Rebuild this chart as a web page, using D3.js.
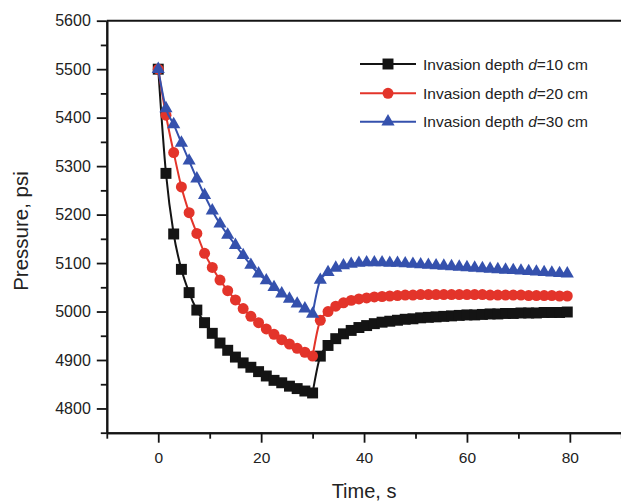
<!DOCTYPE html>
<html lang="en">
	<head>
		<meta charset="utf-8">
		<title>Pressure vs time, invasion depth</title>
		<script src="https://d3js.org/d3.v7.min.js"></script>
		<style type="text/css">
			body { margin: 0; background: #fff; }
			text { font-family: "Liberation Sans", Arial, sans-serif; fill: #222; }
		</style>
	</head>
	<body>
		<script type="text/javascript">
			//Width and height
			var w = 621;
			var h = 504;

			// time of shut-in, splits drawdown and build-up
			var shutIn = 30;

			var time = [0, 1.5, 3, 4.5, 6, 7.5, 9, 10.5, 12, 13.5, 15, 16.5, 18, 19.5, 21, 22.5, 24, 25.5, 27, 28.5, 30,
				31.5, 33, 34.5, 36, 37.5, 39, 40.5, 42, 43.5, 45, 46.5, 48, 49.5, 51, 52.5, 54, 55.5, 57, 58.5, 60,
				61.5, 63, 64.5, 66, 67.5, 69, 70.5, 72, 73.5, 75, 76.5, 78, 79.5];

			var p10 = [5500, 5285, 5160, 5087, 5039, 5003, 4977, 4955, 4935, 4920, 4906, 4894, 4885, 4876, 4867, 4858, 4853, 4846, 4841, 4836, 4832,
				4908, 4930, 4944, 4954, 4961, 4967, 4971, 4975, 4978, 4980, 4982, 4984, 4985, 4987, 4988, 4989, 4990, 4991, 4992, 4993,
				4993, 4994, 4995, 4995, 4996, 4996, 4997, 4997, 4997, 4998, 4998, 4998, 4999];

			var p20 = [5500, 5405, 5328, 5257, 5204, 5161, 5120, 5091, 5065, 5043, 5024, 5006, 4990, 4977, 4964, 4953, 4942, 4933, 4924, 4916, 4908,
				4982, 5000, 5011, 5018, 5023, 5026, 5028, 5030, 5031, 5032, 5033, 5034, 5034, 5035, 5035, 5035, 5035, 5035, 5035, 5035,
				5035, 5035, 5034, 5034, 5034, 5034, 5034, 5033, 5033, 5033, 5033, 5032, 5032];

			var p30 = [5500, 5419, 5386, 5348, 5311, 5274, 5240, 5208, 5181, 5158, 5137, 5116, 5096, 5078, 5064, 5050, 5037, 5026, 5016, 5006, 4995,
				5065, 5081, 5090, 5095, 5098, 5100, 5101, 5101, 5101, 5100, 5100, 5099, 5098, 5097, 5096, 5095, 5094, 5093, 5092, 5091,
				5090, 5089, 5088, 5087, 5086, 5085, 5084, 5083, 5082, 5081, 5080, 5079, 5078];

			var seriesNames = ["Invasion depth ", "Invasion depth ", "Invasion depth "];
			var seriesDepth = ["=10 cm", "=20 cm", "=30 cm"];
			var colors = ["#141414", "#e3342a", "#3551ad"];
			var shapes = [d3.symbolSquare, d3.symbolCircle, d3.symbolTriangle];
			var shapeSizes = [120, 95, 75];

			var xMajor = [0, 20, 40, 60, 80];
			var xMinor = [-10, 10, 30, 50, 70, 90];
			var yMajor = [4800, 4900, 5000, 5100, 5200, 5300, 5400, 5500, 5600];
			var yMinor = [4750, 4850, 4950, 5050, 5150, 5250, 5350, 5450, 5550];

			var mySVG = d3.select('body').append('svg').attr('width', w).attr('height', h);

			//Create scale functions
			var xScale = d3.scaleLinear()
								.domain([-10, 90])
								.range([106.8, 621.3]);

			var yScale = d3.scaleLinear()
								.domain([4750, 5600])
								.range([432.7, 20.7]);

			// axes
			var xAxisG = mySVG.append('g').attr('transform', 'translate(0,' + yScale(4750) + ')');
			xAxisG.call(d3.axisBottom(xScale).tickValues(xMajor).tickSize(10).tickSizeOuter(0).tickPadding(9).tickFormat(d3.format('d')));
			xAxisG.append('g').call(d3.axisBottom(xScale).tickValues(xMinor).tickSize(6).tickSizeOuter(0).tickFormat(''));

			var yAxisG = mySVG.append('g').attr('transform', 'translate(' + xScale(-10) + ',0)');
			yAxisG.call(d3.axisLeft(yScale).tickValues(yMajor).tickSize(10).tickSizeOuter(0).tickPadding(6).tickFormat(d3.format('d')));
			yAxisG.append('g').call(d3.axisLeft(yScale).tickValues(yMinor).tickSize(6).tickSizeOuter(0).tickFormat(''));

			mySVG.selectAll('.domain').attr('stroke', '#141414').attr('stroke-width', 2);
			mySVG.selectAll('.tick line').attr('stroke', '#141414').attr('stroke-width', 1.8);
			xAxisG.selectAll('.tick text').attr('font-size', 15.5).attr('fill', '#222')
				.attr('font-family', '"Liberation Sans", Arial, sans-serif');
			yAxisG.selectAll('.tick text').attr('font-size', 16).attr('fill', '#222')
				.attr('font-family', '"Liberation Sans", Arial, sans-serif');

			// top frame line
			mySVG.append('line')
				.attr('x1', xScale(-10)).attr('x2', xScale(90))
				.attr('y1', yScale(5600)).attr('y2', yScale(5600))
				.attr('stroke', '#141414').attr('stroke-width', 2);

			// axis titles
			mySVG.append('text')
				.attr('x', xScale(40)).attr('y', 498)
				.attr('text-anchor', 'middle')
				.attr('font-size', 20)
				.text('Time, s');

			mySVG.append('text')
				.attr('transform', 'translate(28,231) rotate(-90)')
				.attr('text-anchor', 'middle')
				.attr('font-size', 20.5)
				.text('Pressure, psi');

			// series
			var allSeries = [p10, p20, p30];
			var line = d3.line()
				.x(d => xScale(d[0]))
				.y(d => yScale(d[1]))
				.curve(d3.curveMonotoneX);

			allSeries.forEach(function(vals, k) {
				var pts = time.map((t, i) => [t, vals[i]]);
				var drawdown = pts.filter(d => d[0] <= shutIn);
				var buildup = pts.filter(d => d[0] >= shutIn);

				[drawdown, buildup].forEach(function(seg) {
					mySVG.append('path')
						.datum(seg)
						.attr('d', line)
						.attr('fill', 'none')
						.attr('stroke', colors[k])
						.attr('stroke-width', 2);
				});

				mySVG.append('g').selectAll('path')
					.data(pts)
					.enter()
					.append('path')
						.attr('transform', d => 'translate(' + xScale(d[0]) + ',' + yScale(d[1]) + ')')
						.attr('d', d3.symbol().type(shapes[k]).size(shapeSizes[k]))
						.attr('fill', colors[k]);
			});

			// legend
			var legendY = [64, 93.3, 121.7];
			var legend = mySVG.append('g');
			seriesNames.forEach(function(name, k) {
				legend.append('line')
					.attr('x1', 360).attr('x2', 416)
					.attr('y1', legendY[k]).attr('y2', legendY[k])
					.attr('stroke', colors[k]).attr('stroke-width', 2);
				legend.append('path')
					.attr('transform', 'translate(388,' + legendY[k] + ')')
					.attr('d', d3.symbol().type(shapes[k]).size(shapeSizes[k]))
					.attr('fill', colors[k]);
				var txt = legend.append('text')
					.attr('x', 423).attr('y', legendY[k] + 5.5)
					.attr('font-size', 15.5);
				txt.append('tspan').text(name);
				txt.append('tspan').attr('font-style', 'italic').text('d');
				txt.append('tspan').text(seriesDepth[k]);
			});
		</script>
	</body>
</html>
